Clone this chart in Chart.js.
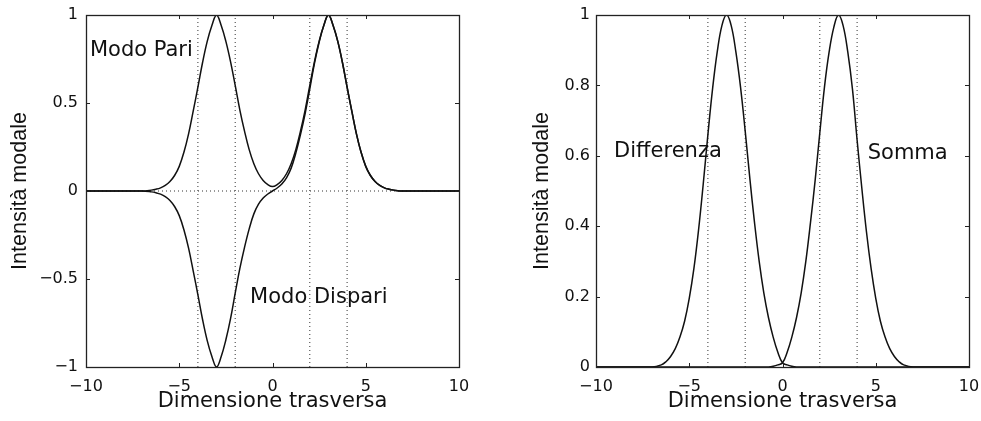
<!DOCTYPE html>
<html>
<head>
<meta charset="utf-8">
<script src="https://cdn.jsdelivr.net/npm/chart.js@4.4.1/dist/chart.umd.min.js"></script>
<style>
  html, body { margin: 0; padding: 0; background: #fff; }
  #wrap { position: relative; width: 981px; height: 421px; }
  .panel { position: absolute; top: 0; height: 421px; }
  #p1 { left: 0; width: 490px; }
  #p2 { left: 490px; width: 491px; }
</style>
</head>
<body>
<div id="wrap">
  <div class="panel" id="p1"><canvas id="chartModi"></canvas></div>
  <div class="panel" id="p2"><canvas id="chartSomma"></canvas></div>
</div>
<script>
// posizioni trasverse (asse x comune a tutte le curve)
const xPos = [-10, -7, -6.5, -6.25, -6, -5.75, -5.5, -5.25, -5, -4.75, -4.5, -4.25, -4, -3.75, -3.5, -3.25, -3,
  -2.75, -2.5, -2.25, -2, -1.75, -1.5, -1.25, -1, -0.75, -0.5, -0.25, 0,
  0.25, 0.5, 0.75, 1, 1.25, 1.5, 1.75, 2, 2.25, 2.5, 2.75, 3,
  3.25, 3.5, 3.75, 4, 4.25, 4.5, 4.75, 5, 5.25, 5.5, 5.75, 6, 6.25, 6.5, 7, 10];

// pannello sinistro
const modoPari = [0, 0, 0.005, 0.01, 0.018, 0.032, 0.054, 0.088, 0.14, 0.22, 0.325, 0.455, 0.59, 0.73, 0.85, 0.94, 1,
  0.94, 0.85, 0.735, 0.6, 0.46, 0.34, 0.235, 0.155, 0.098, 0.06, 0.036, 0.025,
  0.036, 0.06, 0.098, 0.155, 0.235, 0.34, 0.46, 0.6, 0.735, 0.85, 0.94, 1,
  0.94, 0.85, 0.73, 0.59, 0.455, 0.325, 0.22, 0.14, 0.088, 0.054, 0.032, 0.018, 0.01, 0.005, 0, 0];
const modoDispari = [0, 0, -0.005, -0.01, -0.018, -0.032, -0.054, -0.088, -0.14, -0.22, -0.325, -0.455, -0.59, -0.73, -0.85, -0.94, -1,
  -0.94, -0.845, -0.725, -0.58, -0.44, -0.32, -0.215, -0.13, -0.075, -0.04, -0.017, 0,
  0.017, 0.04, 0.075, 0.13, 0.215, 0.32, 0.44, 0.58, 0.725, 0.845, 0.94, 1,
  0.94, 0.85, 0.73, 0.59, 0.455, 0.325, 0.22, 0.14, 0.088, 0.054, 0.032, 0.018, 0.01, 0.005, 0, 0];

// pannello destro
const differenza = [0, 0, 0.006, 0.015, 0.03, 0.052, 0.085, 0.13, 0.195, 0.28, 0.39, 0.52, 0.66, 0.79, 0.895, 0.97, 1,
  0.97, 0.895, 0.795, 0.67, 0.535, 0.41, 0.3, 0.21, 0.14, 0.085, 0.042, 0.012,
  0.006, 0.002, 0, 0, 0, 0, 0, 0, 0, 0, 0, 0,
  0, 0, 0, 0, 0, 0, 0, 0, 0, 0, 0, 0, 0, 0, 0, 0];
const somma = [0, 0, 0, 0, 0, 0, 0, 0, 0, 0, 0, 0, 0, 0, 0, 0, 0,
  0, 0, 0, 0, 0, 0, 0, 0, 0, 0.002, 0.006, 0.012,
  0.042, 0.085, 0.14, 0.21, 0.3, 0.41, 0.53, 0.665, 0.795, 0.895, 0.965, 1,
  0.97, 0.895, 0.79, 0.645, 0.51, 0.385, 0.28, 0.195, 0.13, 0.085, 0.052, 0.03, 0.015, 0.006, 0, 0];

// bordi delle guide (linee tratteggiate)
const guideX = [-4, -2, 2, 4];

const xTicks = [-10, -5, 0, 5, 10];
const xTickLabels = ['\u221210', '\u22125', '0', '5', '10'];
const yTicksL = [-1, -0.5, 0, 0.5, 1];
const yTickLabelsL = ['\u22121', '\u22120.5', '0', '0.5', '1'];
const yTicksR = [0, 0.2, 0.4, 0.6, 0.8, 1];
const yTickLabelsR = ['0', '0.2', '0.4', '0.6', '0.8', '1'];

const testiL = ['Modo Pari', 'Modo Dispari'];
const testiR = ['Differenza', 'Somma'];

const INK = '#111';
const FONT = 'DejaVu Sans';

const toPts = (xs, ys) => xs.map((x, i) => ({ x: x, y: ys[i] }));

const curve = (data) => ({
  data: data, borderColor: INK, borderWidth: 1.5, pointRadius: 0,
  tension: 0.4, fill: false, order: 1
});
const guide = (data) => ({
  data: data, borderColor: '#333', borderWidth: 1, borderDash: [1, 3],
  pointRadius: 0, tension: 0, fill: false, order: 2
});

// riquadro stile matlab: bordo, tacche interne e scritte
const boxPlugin = {
  id: 'box',
  afterDatasetsDraw(chart, args, opts) {
    const { ctx, chartArea: a, scales: { x, y } } = chart;
    ctx.save();
    ctx.strokeStyle = '#222';
    ctx.lineWidth = 1.3;
    ctx.strokeRect(a.left + 0.5, a.top + 0.5, a.right - a.left, a.bottom - a.top);
    ctx.lineWidth = 1;
    ctx.beginPath();
    x.ticks.forEach(t => {
      const px = Math.round(x.getPixelForValue(t.value)) + 0.5;
      ctx.moveTo(px, a.bottom); ctx.lineTo(px, a.bottom - 4);
      ctx.moveTo(px, a.top); ctx.lineTo(px, a.top + 4);
    });
    y.ticks.forEach(t => {
      const py = Math.round(y.getPixelForValue(t.value)) + 0.5;
      ctx.moveTo(a.left, py); ctx.lineTo(a.left + 4, py);
      ctx.moveTo(a.right, py); ctx.lineTo(a.right - 4, py);
    });
    ctx.stroke();

    ctx.fillStyle = INK;
    ctx.font = '21px "' + FONT + '"';
    ctx.textAlign = 'left';
    ctx.textBaseline = 'alphabetic';
    (opts.labels || []).forEach(l => {
      ctx.fillText(l.text, x.getPixelForValue(l.x), y.getPixelForValue(l.y));
    });
    ctx.restore();
  }
};

function makeChart(id, datasets, cfg) {
  return new Chart(document.getElementById(id), {
    type: 'line',
    data: { datasets: datasets },
    plugins: [boxPlugin],
    options: {
      responsive: true,
      maintainAspectRatio: false,
      animation: false,
      layout: { padding: cfg.padding },
      plugins: {
        legend: { display: false },
        tooltip: { enabled: false },
        box: { labels: cfg.labels }
      },
      scales: {
        x: {
          type: 'linear', min: -10, max: 10,
          afterBuildTicks: s => { s.ticks = xTicks.map(v => ({ value: v })); },
          ticks: {
            callback: (v, i) => xTickLabels[i],
            font: { family: FONT, size: 16 }, color: INK, padding: 10,
            maxRotation: 0, autoSkip: false
          },
          grid: { display: false, drawTicks: false },
          border: { display: false },
          title: {
            display: true, text: 'Dimensione trasversa',
            font: { family: FONT, size: 21 }, color: INK,
            padding: { top: 0, bottom: 7 }
          },
          afterFit: s => { s.height = 54; s.paddingLeft = 0; s.paddingRight = 0; }
        },
        y: {
          type: 'linear', min: cfg.yMin, max: cfg.yMax,
          afterBuildTicks: s => { s.ticks = cfg.yTicks.map(v => ({ value: v })); },
          ticks: {
            callback: (v, i) => cfg.yLabels[i],
            font: { family: FONT, size: 16 }, color: INK, padding: cfg.tickPad
          },
          grid: { display: false, drawTicks: false },
          border: { display: false },
          title: {
            display: true, text: 'Intensità modale',
            font: { family: 'Liberation Sans', size: 21.5 }, color: INK,
            padding: { top: cfg.titlePad, bottom: 0 }
          },
          afterFit: s => { s.width = cfg.yWidth; s.paddingTop = 0; s.paddingBottom = 0; }
        }
      }
    }
  });
}

// pannello sinistro: modo pari e dispari
const dsL = [
  curve(toPts(xPos, modoPari)),
  curve(toPts(xPos, modoDispari)),
  guide([{ x: -10, y: 0 }, { x: 10, y: 0 }])
].concat(guideX.map(g => guide([{ x: g, y: -1 }, { x: g, y: 1 }])));

makeChart('chartModi', dsL, {
  padding: { top: 15, right: 31, bottom: 0, left: 0 },
  yMin: -1, yMax: 1, yTicks: yTicksL, yLabels: yTickLabelsL,
  yWidth: 86, tickPad: 8, titlePad: 7,
  labels: [
    { text: testiL[0], x: -9.79, y: 0.767 },
    { text: testiL[1], x: -1.2, y: -0.635 }
  ]
});

// pannello destro: somma e differenza
const dsR = [
  curve(toPts(xPos, differenza)),
  curve(toPts(xPos, somma))
].concat(guideX.map(g => guide([{ x: g, y: 0 }, { x: g, y: 1 }])));

makeChart('chartSomma', dsR, {
  padding: { top: 15, right: 12, bottom: 0, left: 0 },
  yMin: 0, yMax: 1, yTicks: yTicksR, yLabels: yTickLabelsR,
  yWidth: 106, tickPad: 6, titlePad: 39,
  labels: [
    { text: testiR[0], x: -9.03, y: 0.597 },
    { text: testiR[1], x: 4.57, y: 0.59 }
  ]
});
</script>
</body>
</html>
